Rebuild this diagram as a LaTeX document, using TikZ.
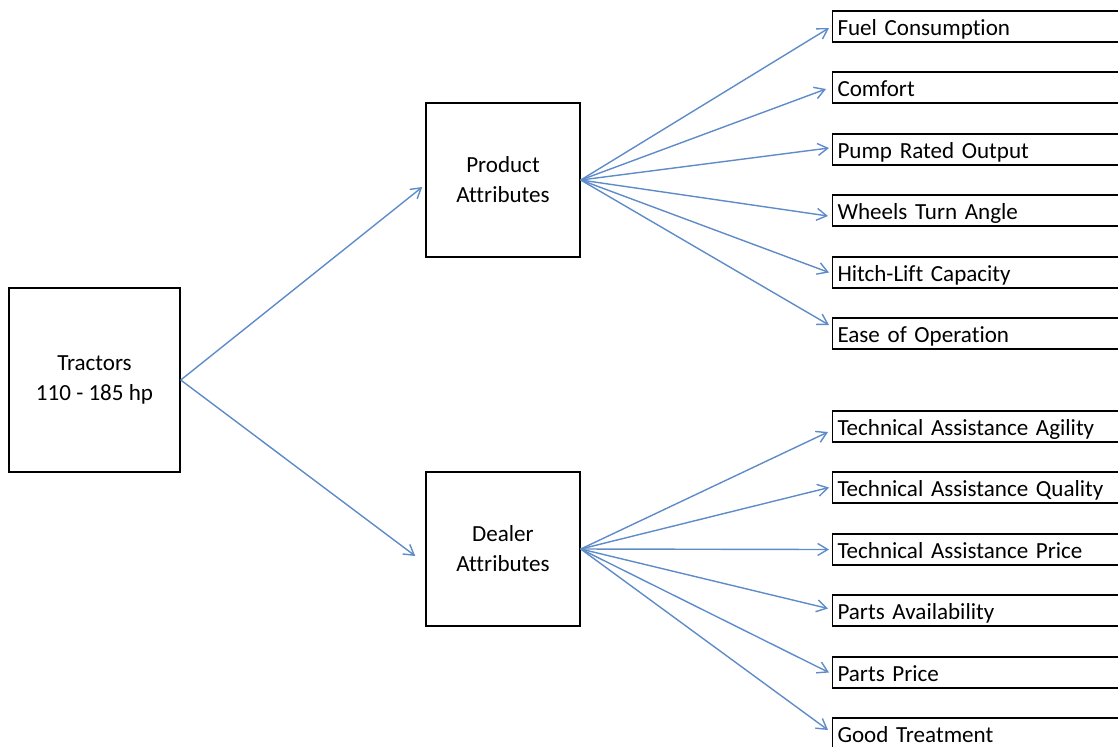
\documentclass[tikz,border=0pt]{standalone}
\usepackage{fontspec}
\setmainfont{Carlito}[Ligatures = NoCommon]
\usetikzlibrary{calc}
\usetikzlibrary{arrows.meta}

\definecolor{linkBlue}{RGB}{95,140,200}

\begin{document}
\begin{tikzpicture}[x = 0.025cm, y = -0.025cm,
	bigBox/.style = {draw, line width = 1pt, inner sep = 0pt, align = center, font = \fontsize{16.4}{21.3}\selectfont},
	leafBox/.style = {draw, line width = 1pt, anchor = west, text width = 7cm, inner xsep = 0.12cm, inner ysep = 0pt, minimum height = 0.775cm, text height = 0.45cm, text depth = 0cm, align = left, font = \fontsize{16.4}{18}\selectfont},
	link/.style = {draw = linkBlue, line width = 1pt, -{Straight Barb[length = 0.25cm, width = 0.3cm]}}]

	% page frame (the leaf boxes run off the right edge)
	\useasboundingbox (0,0) rectangle (1118,746);
	\clip (0,0) rectangle (1118,746);

	% main boxes
	\node [bigBox, minimum width = 4.275cm, minimum height = 4.6cm] (tractors) at (94.5,380) {Tractors\\110 - 185 hp};
	\node [bigBox, minimum size = 3.85cm] (product) at (503,180) {Product\\Attributes};
	\node [bigBox, minimum size = 3.85cm] (dealer) at (503,549) {Dealer\\Attributes};

	% product attributes
	\def \leafLeft {832};
	\node [leafBox] (fuel) at (\leafLeft,26.5) {Fuel Consumption};
	\node [leafBox] (comfort) at (\leafLeft,87.5) {Comfort};
	\node [leafBox] (pump) at (\leafLeft,149.5) {Pump Rated Output};
	\node [leafBox] (wheels) at (\leafLeft,210.5) {Wheels Turn Angle};
	\node [leafBox] (hitch) at (\leafLeft,272.5) {Hitch-Lift Capacity};
	\node [leafBox] (ease) at (\leafLeft,333.5) {Ease of Operation};

	% dealer attributes
	\node [leafBox] (agility) at (\leafLeft,426.5) {Technical Assistance Agility};
	\node [leafBox] (quality) at (\leafLeft,487.5) {Technical Assistance Quality};
	\node [leafBox] (price) at (\leafLeft,549.5) {Technical Assistance Price};
	\node [leafBox] (partsAvail) at (\leafLeft,610.5) {Parts Availability};
	\node [leafBox] (partsPrice) at (\leafLeft,672.5) {Parts Price};
	\node [leafBox] (treatment) at (\leafLeft,733.5) {Good Treatment};

	% tractors to the two groups
	\draw [link] (tractors.east) -- ($(product.west) + (-3,7)$);
	\draw [link] (tractors.east) -- ($(dealer.west) + (-10,7)$);

	%% product fan
	\draw [link] (product.east) -- ($(fuel.west) + (-3,1.5)$);
	\draw [link] (product.east) -- ($(comfort.west) + (-6,1.5)$);
	\draw [link] (product.east) -- ($(pump.west) + (-3,-1.5)$);
	\draw [link] (product.east) -- ($(wheels.west) + (-4,5.5)$);
	\draw [link] (product.east) -- ($(hitch.west) + (-3,0)$);
	\draw [link] (product.east) -- ($(ease.west) + (-3,-8.5)$);

	%% dealer fan
	\draw [link] (dealer.east) -- ($(agility.west) + (-4,5.5)$);
	\draw [link] (dealer.east) -- ($(quality.west) + (-3,0)$);
	\draw [link] (dealer.east) -- ($(price.west) + (-3,0)$);
	\draw [link] (dealer.east) -- ($(partsAvail.west) + (-4,-2)$);
	\draw [link] (dealer.east) -- ($(partsPrice.west) + (-3,0)$);
	\draw [link] (dealer.east) -- ($(treatment.west) + (-4,-3.5)$);

\end{tikzpicture}
\end{document}
